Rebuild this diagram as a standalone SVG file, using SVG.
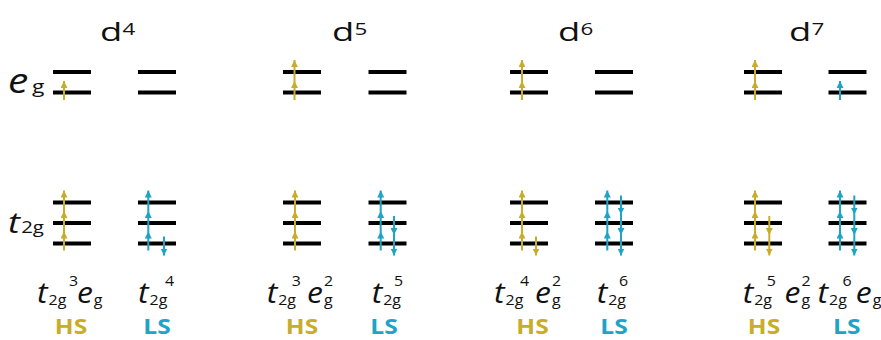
<svg xmlns="http://www.w3.org/2000/svg" width="881" height="340" viewBox="0 0 881 340">
<style>
text{font-family:"Open Sans","Noto Sans",sans-serif;fill:#111}
.it{font-style:italic}
.n{font-style:normal}
.sub{font-size:14.5px;font-style:normal}
.sup{font-size:14.5px;font-style:normal}
.lbl{font-size:29px}
.hd{font-size:26px}
.hs{font-size:22px;font-weight:bold;fill:#C8AE28;text-anchor:middle}
.ls{font-size:22px;font-weight:bold;fill:#1FA3C6;text-anchor:middle}
.bar{fill:#000}
.y{stroke:#C8AE28;stroke-width:2;fill:none;marker-mid:url(#hy);marker-end:url(#hy)}
.c{stroke:#1FA3C6;stroke-width:2;fill:none;marker-mid:url(#hc);marker-end:url(#hc)}
</style>
<defs>
<marker id="hy" markerUnits="userSpaceOnUse" markerWidth="7" markerHeight="7" refX="7" refY="3.5" orient="auto" viewBox="0 0 7 7"><path d="M0,0 L7,3.5 L0,7 z" fill="#C8AE28"/></marker>
<marker id="hc" markerUnits="userSpaceOnUse" markerWidth="7" markerHeight="7" refX="7" refY="3.5" orient="auto" viewBox="0 0 7 7"><path d="M0,0 L7,3.5 L0,7 z" fill="#1FA3C6"/></marker>
<g id="lv2"><rect class="bar" x="0" y="70" width="38" height="4"/><rect class="bar" x="0" y="90.5" width="38" height="4"/></g>
<g id="lv3"><rect class="bar" x="0" y="200.5" width="38" height="4"/><rect class="bar" x="0" y="221" width="38" height="4"/><rect class="bar" x="0" y="241.5" width="38" height="4"/></g>
</defs>

<g id="axis-labels">
<text class="it" style="font-size:34px" transform="translate(8,93) scale(1.2,1)">e<tspan class="n" x="20" y="0" style="font-size:19px">g</tspan></text>
<text class="it" style="font-size:30px" transform="translate(8,233) scale(1.2,1)">t<tspan class="n" x="11" y="0" style="font-size:17px">2g</tspan></text>
</g>

<g id="headings">
<text class="hd" transform="translate(100,40.5) scale(1.4,1)">d<tspan x="16" y="-6" style="font-size:16px">4</tspan></text>
<text class="hd" transform="translate(332,40.5) scale(1.4,1)">d<tspan x="16" y="-6" style="font-size:16px">5</tspan></text>
<text class="hd" transform="translate(558,40.5) scale(1.4,1)">d<tspan x="16" y="-6" style="font-size:16px">6</tspan></text>
<text class="hd" transform="translate(789,40.5) scale(1.4,1)">d<tspan x="16" y="-6" style="font-size:16px">7</tspan></text>
</g>

<g id="d4-HS">
<use href="#lv2" x="53"/><use href="#lv3" x="53"/>
<polyline class="y" points="64,100 64,81"/>
<polyline class="y" points="64,250.5 64,231.5 64,211 64,190.5"/>
<text class="lbl it" transform="translate(37,303) scale(1.1,1)">t<tspan class="sub" x="10.5" y="2">2g</tspan><tspan class="sup" x="29" y="-17.5">3</tspan><tspan x="36.4" y="0">e</tspan><tspan class="sub" x="51.5" y="2">g</tspan></text>
<text class="hs" transform="translate(71,334) scale(1.12,1)">HS</text>
</g>
<g id="d4-LS">
<use href="#lv2" x="138"/><use href="#lv3" x="138"/>
<polyline class="c" points="148.3,250.5 148.3,231.5 148.3,211 148.3,190.5"/>
<polyline class="c" points="164,236.5 164,255.5"/>
<text class="lbl it" transform="translate(138,303) scale(1.1,1)">t<tspan class="sub" x="10.5" y="2">2g</tspan><tspan class="sup" x="24.5" y="-17.5">4</tspan></text>
<text class="ls" transform="translate(157,334) scale(1.12,1)">LS</text>
</g>

<g id="d5-HS">
<use href="#lv2" x="283"/><use href="#lv3" x="283"/>
<polyline class="y" points="294.5,100 294.5,81 294.5,60"/>
<polyline class="y" points="295,250.5 295,231.5 295,211 295,190.5"/>
<text class="lbl it" transform="translate(266.7,303) scale(1.1,1)">t<tspan class="sub" x="10.5" y="2">2g</tspan><tspan class="sup" x="22.7" y="-17.5">3</tspan><tspan x="36.6" y="0">e</tspan><tspan class="sub" x="52" y="2">g</tspan><tspan class="sup" x="52" y="-17.5">2</tspan></text>
<text class="hs" transform="translate(302,334) scale(1.12,1)">HS</text>
</g>
<g id="d5-LS">
<use href="#lv2" x="368.5"/><use href="#lv3" x="368.5"/>
<polyline class="c" points="380.7,250.5 380.7,231.5 380.7,211 380.7,190.5"/>
<polyline class="c" points="394,216 394,235 394,255.5"/>
<text class="lbl it" transform="translate(371.7,303) scale(1.1,1)">t<tspan class="sub" x="10.5" y="2">2g</tspan><tspan class="sup" x="20.3" y="-17.5">5</tspan></text>
<text class="ls" transform="translate(384,334) scale(1.12,1)">LS</text>
</g>

<g id="d6-HS">
<use href="#lv2" x="510"/><use href="#lv3" x="510"/>
<polyline class="y" points="522,100 522,81 522,60"/>
<polyline class="y" points="522,250.5 522,231.5 522,211 522,190.5"/>
<polyline class="y" points="536,236.5 536,255.5"/>
<text class="lbl it" transform="translate(494,303) scale(1.1,1)">t<tspan class="sub" x="10.5" y="2">2g</tspan><tspan class="sup" x="23.6" y="-17.5">4</tspan><tspan x="37.3" y="0">e</tspan><tspan class="sub" x="52.7" y="2">g</tspan><tspan class="sup" x="52.7" y="-17.5">2</tspan></text>
<text class="hs" transform="translate(532.5,334) scale(1.12,1)">HS</text>
</g>
<g id="d6-LS">
<use href="#lv2" x="595"/><use href="#lv3" x="595"/>
<polyline class="c" points="607.3,250.5 607.3,231.5 607.3,211 607.3,190.5"/>
<polyline class="c" points="621,195.5 621,214.5 621,235 621,255.5"/>
<text class="lbl it" transform="translate(596.7,303) scale(1.1,1)">t<tspan class="sub" x="10.5" y="2">2g</tspan><tspan class="sup" x="20.3" y="-17.5">6</tspan></text>
<text class="ls" transform="translate(614,334) scale(1.12,1)">LS</text>
</g>

<g id="d7-HS">
<use href="#lv2" x="744"/><use href="#lv3" x="744"/>
<polyline class="y" points="755,100 755,81 755,60"/>
<polyline class="y" points="755,250.5 755,231.5 755,211 755,190.5"/>
<polyline class="y" points="769.3,216 769.3,235 769.3,255.5"/>
<text class="lbl it" transform="translate(742.7,303) scale(1.1,1)">t<tspan class="sub" x="10.5" y="2">2g</tspan><tspan class="sup" x="21.8" y="-17.5">5</tspan><tspan x="38" y="0">e</tspan><tspan class="sub" x="53.4" y="2">g</tspan><tspan class="sup" x="53.4" y="-17.5">2</tspan></text>
<text class="hs" transform="translate(764,334) scale(1.12,1)">HS</text>
</g>
<g id="d7-LS">
<use href="#lv2" x="828.5"/><use href="#lv3" x="828.5"/>
<polyline class="c" points="840,100 840,81"/>
<polyline class="c" points="840,250.5 840,231.5 840,211 840,190.5"/>
<polyline class="c" points="854.3,195.5 854.3,214.5 854.3,235 854.3,255.5"/>
<text class="lbl it" transform="translate(817.5,303) scale(1.1,1)">t<tspan class="sub" x="10.5" y="2">2g</tspan><tspan class="sup" x="22.7" y="-17.5">6</tspan><tspan x="34.8" y="0">e</tspan><tspan class="sub" x="50.2" y="2">g</tspan></text>
<text class="ls" transform="translate(846.7,334) scale(1.12,1)">LS</text>
</g>

<g id="connectors"></g>
</svg>
